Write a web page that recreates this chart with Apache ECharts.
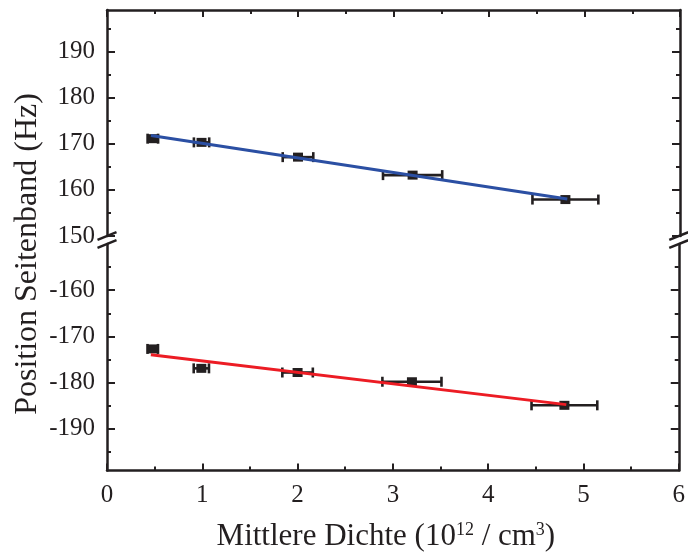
<!DOCTYPE html>
<html>
<head>
<meta charset="utf-8">
<script src="https://cdn.jsdelivr.net/npm/echarts@6/dist/echarts.min.js"></script>
<style>
  html, body { margin: 0; padding: 0; background: #fff; }
  #chart { width: 688px; height: 554px; }
</style>
</head>
<body>
<div id="chart"></div>
<script>
// Mean density (10^12 / cm^3) and its horizontal uncertainty
const densities = [0.48, 0.99, 2.0, 3.2, 4.8];
const densityErr = [0.055, 0.08, 0.16, 0.31, 0.345];
// Sideband positions (Hz)
const upperSideband = [171.1, 170.3, 167.1, 163.2, 157.9];
const lowerSideband = [-172.7, -176.9, -177.8, -179.8, -184.9];
// Linear fits (end points)
const fitX = [0.46, 4.82];
const upperFit = [171.8, 158.0];
const lowerFit = [-173.95, -184.75];
// Axis ranges and ticks
const xRange = [0, 6];
const upperRange = [150, 199];
const lowerRange = [-199, -150];
const upperTicks = [150, 160, 170, 180, 190];
const upperMinor = [155, 165, 175, 185, 195];
const lowerTicks = [-190, -180, -170, -160];
const lowerMinor = [-195, -185, -175, -165, -155];

const INK = '#231f20';
const FONT = '"Liberation Serif", "Times New Roman", serif';
const AXW = 2.5;

const chart = echarts.init(document.getElementById('chart'), null, { renderer: 'canvas' });

function xAxisFor(grid, position, withLabels) {
  return {
    type: 'value', gridIndex: grid, position: position,
    min: xRange[0], max: xRange[1], interval: 1,
    axisLine: { show: true, onZero: false, lineStyle: { color: INK, width: AXW } },
    axisTick: { show: true, inside: true, length: 7, lineStyle: { color: INK, width: 2 } },
    minorTick: { show: true, splitNumber: 2, length: 4, lineStyle: { color: INK, width: 2 } },
    splitLine: { show: false },
    axisLabel: withLabels
      ? { show: true, margin: 12, color: INK, fontFamily: FONT, fontSize: 25 }
      : { show: false },
    name: withLabels ? 'Mittlere Dichte (10{sup|12} / cm{sup|3})' : '',
    nameLocation: 'middle',
    nameGap: 51,
    nameTextStyle: {
      color: INK, fontFamily: FONT, fontSize: 31,
      padding: [0, 14, 0, 0],
      rich: { sup: { color: INK, fontFamily: FONT, fontSize: 18, verticalAlign: 'top' } }
    }
  };
}

// Four y axes per panel: left major/minor, right major/minor
function yAxesFor(grid, range, major, minor) {
  const make = (pos, ticks, len, line, labels) => ({
    type: 'value', gridIndex: grid, position: pos,
    min: range[0], max: range[1],
    axisLine: { show: line, lineStyle: { color: INK, width: AXW } },
    axisTick: { show: true, inside: true, length: len, customValues: ticks,
                lineStyle: { color: INK, width: 2 } },
    splitLine: { show: false },
    axisLabel: labels
      ? { show: true, customValues: ticks, margin: 12, color: INK, fontFamily: FONT, fontSize: 25 }
      : { show: false }
  });
  return [
    make('left', major, 8, true, true),
    make('left', minor, 4, false, false),
    make('right', major, 8, true, false),
    make('right', minor, 4, false, false)
  ];
}

function errorBars(xi, yi, ys) {
  return {
    type: 'custom', xAxisIndex: xi, yAxisIndex: yi, z: 3,
    data: densities.map((x, i) => [x, ys[i], x - densityErr[i], x + densityErr[i]]),
    encode: { x: [0, 2, 3], y: 1 },
    renderItem(params, api) {
      const y = api.value(1);
      const l = api.coord([api.value(2), y]);
      const r = api.coord([api.value(3), y]);
      const h = 5;
      const style = { stroke: INK, lineWidth: 2.6, fill: null };
      return {
        type: 'group',
        children: [
          { type: 'line', shape: { x1: l[0], y1: l[1], x2: r[0], y2: r[1] }, style },
          { type: 'line', shape: { x1: l[0], y1: l[1] - h, x2: l[0], y2: l[1] + h }, style },
          { type: 'line', shape: { x1: r[0], y1: r[1] - h, x2: r[0], y2: r[1] + h }, style }
        ]
      };
    }
  };
}

function points(xi, yi, ys) {
  return {
    type: 'scatter', xAxisIndex: xi, yAxisIndex: yi, z: 4,
    symbol: 'rect', symbolSize: [10, 9],
    itemStyle: { color: INK, opacity: 1 },
    data: densities.map((x, i) => [x, ys[i]])
  };
}

function fitLine(xi, yi, ys, color) {
  return {
    type: 'line', xAxisIndex: xi, yAxisIndex: yi, z: 5,
    showSymbol: false, silent: true,
    lineStyle: { color: color, width: 3 },
    data: fitX.map((x, i) => [x, ys[i]])
  };
}

chart.setOption({
  animation: false,
  backgroundColor: '#fff',
  grid: [
    { left: 107, right: 8, top: 10, height: 226 },
    { left: 107, right: 8, top: 244, height: 226.5 }
  ],
  xAxis: [
    xAxisFor(0, 'top', false),
    xAxisFor(1, 'bottom', true)
  ],
  yAxis: [
    ...yAxesFor(0, upperRange, upperTicks, upperMinor),
    ...yAxesFor(1, lowerRange, lowerTicks, lowerMinor)
  ],
  series: [
    errorBars(0, 0, upperSideband),
    points(0, 0, upperSideband),
    fitLine(0, 0, upperFit, '#2b4fa3'),
    errorBars(1, 4, lowerSideband),
    points(1, 4, lowerSideband),
    fitLine(1, 4, lowerFit, '#ec1c24')
  ]
});

// Axis break marks and the vertical axis title
const xl = chart.convertToPixel({ xAxisIndex: 1 }, xRange[0]);
const xr = chart.convertToPixel({ xAxisIndex: 1 }, xRange[1]);
const yUp = chart.convertToPixel({ yAxisIndex: 0 }, upperRange[0]);
const yLo = chart.convertToPixel({ yAxisIndex: 4 }, lowerRange[1]);
const slash = (cx, cy) => ({
  type: 'line', z: 10,
  shape: { x1: cx - 9.5, y1: cy + 3.8, x2: cx + 9.5, y2: cy - 3.8 },
  style: { stroke: INK, lineWidth: 2.5 }
});
chart.setOption({
  graphic: [
    slash(xl, yUp), slash(xl, yLo), slash(xr, yUp), slash(xr, yLo),
    {
      type: 'text', x: 28, y: 254, rotation: Math.PI / 2,
      style: {
        text: 'Position Seitenband (Hz)', fill: INK,
        font: '32px ' + FONT,
        align: 'center', verticalAlign: 'middle',
        textAlign: 'center', textVerticalAlign: 'middle'
      }
    }
  ]
});
</script>
</body>
</html>
